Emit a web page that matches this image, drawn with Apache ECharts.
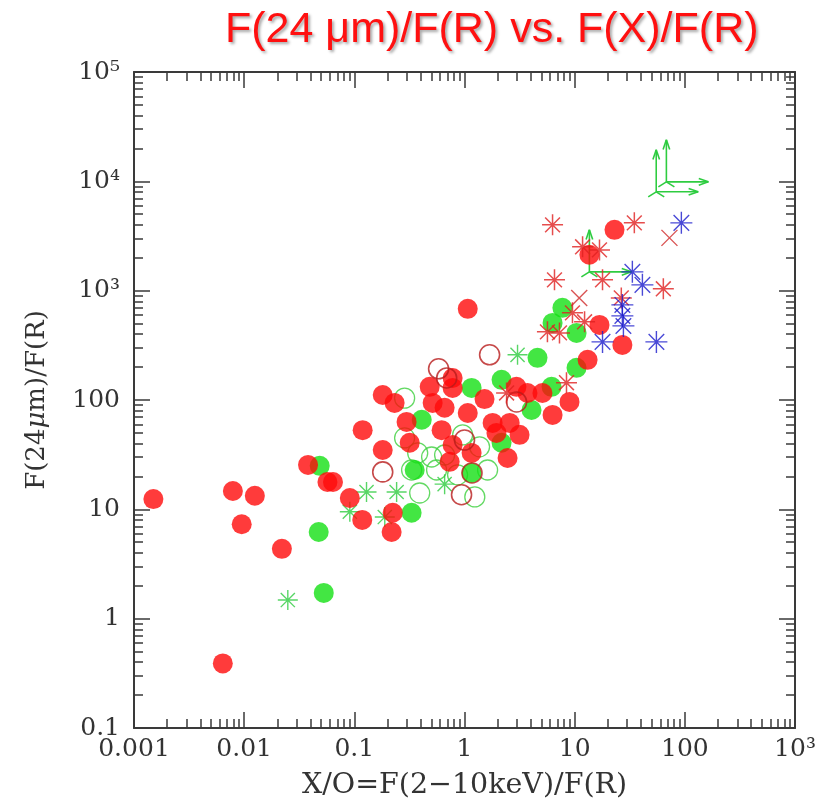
<!DOCTYPE html>
<html>
<head>
<meta charset="utf-8">
<script src="https://cdn.jsdelivr.net/npm/echarts@6/dist/echarts.min.js"></script>
<style>
  html, body { margin: 0; padding: 0; background: #ffffff; }
  #chart { width: 828px; height: 808px; }
</style>
</head>
<body>
<div id="chart"></div>
<script>
// X/O ratio (2-10 keV over R band) against 24 micron over R band flux ratio
const xDecades = [0.001, 0.01, 0.1, 1, 10, 100, 1000];
const xTickLabels = ['0.001', '0.01', '0.1', '1', '10', '100', '10³'];
const yDecades = [0.1, 1, 10, 100, 1000, 10000, 100000];
const yTickLabels = ['0.1', '1', '10', '100', '10³', '10⁴', '10⁵'];

// filled red circles
const redFilled = [
  [0.0015, 12.4], [0.0079, 14.7], [0.0125, 13.3], [0.0095, 7.3], [0.022, 4.35],
  [0.0064, 0.39], [0.038, 25.5], [0.057, 17.8], [0.064, 17.8], [0.091, 12.7],
  [0.118, 8.0], [0.223, 9.3], [0.218, 6.2], [0.119, 53], [0.181, 111],
  [0.232, 94], [0.298, 63], [0.318, 40.6], [0.181, 34.9], [0.483, 132],
  [0.514, 94], [0.78, 159], [0.78, 129], [0.66, 85], [0.62, 53],
  [1.07, 76], [1.52, 102], [0.78, 38.8], [1.16, 32.8], [0.733, 27.2],
  [1.8, 61.7], [2.57, 61.7], [1.95, 50], [3.16, 48], [2.46, 29.5],
  [2.96, 132], [3.73, 116], [5.1, 116], [6.3, 73], [8.98, 96],
  [13.1, 233], [1.07, 682], [16.8, 486], [27.1, 319], [13.6, 2130],
  [23, 3600]
];
// filled green circles
const greenFilled = [
  [0.0485, 25], [0.0475, 6.2], [0.0528, 1.72], [0.331, 9.3], [0.409, 66],
  [0.353, 22.9], [1.16, 129], [1.16, 21.5], [2.17, 153], [2.17, 40.6],
  [4.06, 81], [4.6, 243], [6.17, 132], [10.4, 197], [10.4, 411],
  [7.74, 697], [6.3, 507]
];
// open green circles
const greenOpen = [
  [0.286, 104], [0.286, 45], [0.376, 32.8], [0.331, 22.9], [0.392, 14.1],
  [0.503, 30.1], [0.558, 22.9], [0.962, 48], [1.37, 37.3], [1.62, 22.9],
  [1.24, 13.0], [0.865, 20.7], [0.66, 31.4]
];
// open red circles
const redOpen = [
  [0.181, 22], [0.94, 13.6], [0.582, 193], [0.689, 159], [1.69, 259],
  [1.17, 21.5], [2.97, 96], [1.0, 43]
];
// red asterisks
const redStar = [
  [6.3, 4000], [34.8, 4170], [11.8, 2520], [16.8, 2360], [6.56, 1256],
  [17.9, 1256], [63.8, 1040], [26.5, 859], [9.55, 627], [12.3, 519],
  [5.66, 420], [7.28, 411], [8.43, 144], [2.41, 116]
];
// red crosses
const redCross = [[11.0, 859], [72.5, 3040]];
// blue asterisks
const blueStar = [
  [93, 4170], [33.4, 1486], [41.2, 1130], [27.1, 741], [27.1, 588],
  [27.7, 476], [17.9, 340], [55.2, 340]
];
// green asterisks
const greenStar = [
  [3.03, 259], [0.129, 14.4], [0.242, 14.4], [0.66, 17], [0.091, 9.5],
  [0.189, 8.5], [0.0249, 1.48]
];
// green lower limits in both ratios
const greenLimit = [[55, 8020], [68, 9890], [13.6, 1486]];

function minorValues(decades) {
  const out = [];
  for (let i = 0; i < decades.length - 1; i++) {
    for (let k = 2; k <= 9; k++) out.push(+(decades[i] * k).toPrecision(6));
  }
  return out;
}
const xMinor = minorValues(xDecades);
const yMinor = minorValues(yDecades);

const AXIS_COLOR = '#3a3a3a';
const TEXT_COLOR = '#333333';
const LABEL_FONT = '"DejaVu Serif", serif';

function labelFor(decades, labels) {
  return function (v) {
    for (let i = 0; i < decades.length; i++) {
      if (Math.abs(Math.log10(v) - Math.log10(decades[i])) < 1e-6) return labels[i];
    }
    return '';
  };
}

function makeAxis(dim, position, decades, minor, labels, isMain, isMinor) {
  const ax = {
    type: 'log',
    logBase: 10,
    min: decades[0],
    max: decades[decades.length - 1],
    position: position,
    splitLine: { show: false },
    axisLine: { show: !isMinor, lineStyle: { color: AXIS_COLOR, width: 2 } },
    axisTick: {
      show: true,
      inside: true,
      length: isMinor ? 9 : 16,
      customValues: isMinor ? minor : decades,
      lineStyle: { color: AXIS_COLOR, width: 1.5 }
    },
    axisLabel: { show: false },
    z: 5
  };
  if (isMain) {
    ax.axisLabel = {
      show: true,
      customValues: decades,
      formatter: labelFor(decades, labels),
      color: TEXT_COLOR,
      fontFamily: LABEL_FONT,
      fontSize: 25,
      margin: dim === 'x' ? 9 : 14,
      showMinLabel: true,
      showMaxLabel: true
    };
  }
  return ax;
}

const xAxes = [
  makeAxis('x', 'bottom', xDecades, xMinor, xTickLabels, true, false),
  makeAxis('x', 'bottom', xDecades, xMinor, xTickLabels, false, true),
  makeAxis('x', 'top', xDecades, xMinor, xTickLabels, false, false),
  makeAxis('x', 'top', xDecades, xMinor, xTickLabels, false, true)
];
xAxes[0].name = 'X/O=F(2\u221210keV)/F(R)';
xAxes[0].nameLocation = 'middle';
xAxes[0].nameGap = 43;
xAxes[0].nameTextStyle = { fontFamily: LABEL_FONT, fontSize: 28.5, color: TEXT_COLOR };

const yAxes = [
  makeAxis('y', 'left', yDecades, yMinor, yTickLabels, true, false),
  makeAxis('y', 'left', yDecades, yMinor, yTickLabels, false, true),
  makeAxis('y', 'right', yDecades, yMinor, yTickLabels, false, false),
  makeAxis('y', 'right', yDecades, yMinor, yTickLabels, false, true)
];
yAxes[0].name = '{a|F(24}{i|\u03bc}{a|m)/F(R)}';
yAxes[0].nameLocation = 'middle';
yAxes[0].nameGap = 84;
yAxes[0].nameRotate = 90;
yAxes[0].nameTextStyle = {
  fontFamily: LABEL_FONT, fontSize: 26, color: TEXT_COLOR,
  rich: {
    a: { fontFamily: LABEL_FONT, fontSize: 26, color: TEXT_COLOR },
    i: { fontFamily: LABEL_FONT, fontSize: 26, fontStyle: 'italic', color: TEXT_COLOR }
  }
};

const STAR = 'path://M0,-10L0,10M-10,0L10,0M-7.07,-7.07L7.07,7.07M-7.07,7.07L7.07,-7.07';
const CROSS = 'path://M-8,-8L8,8M-8,8L8,-8';

function scatter(name, data, opts) {
  return Object.assign({
    name: name,
    type: 'scatter',
    data: data,
    xAxisIndex: 0,
    yAxisIndex: 0,
    animation: false,
    silent: true
  }, opts);
}

const ARROW_LEN = 42;
const HEAD = 6;
function renderLimit(params, api) {
  const p = api.coord([api.value(0), api.value(1)]);
  const x = p[0], y = p[1];
  const st = { stroke: '#2ecc40', lineWidth: 1.6, fill: null };
  const line = (x1, y1, x2, y2) => ({ type: 'line', shape: { x1, y1, x2, y2 }, style: st });
  return {
    type: 'group',
    children: [
      line(x, y, x, y - ARROW_LEN),
      line(x, y - ARROW_LEN, x - HEAD * 0.55, y - ARROW_LEN + HEAD * 1.6),
      line(x, y - ARROW_LEN, x + HEAD * 0.55, y - ARROW_LEN + HEAD * 1.6),
      line(x, y, x + ARROW_LEN, y),
      line(x + ARROW_LEN, y, x + ARROW_LEN - HEAD * 1.6, y - HEAD * 0.55),
      line(x + ARROW_LEN, y, x + ARROW_LEN - HEAD * 1.6, y + HEAD * 0.55),
      line(x, y, x - 8, y + 5),
      line(x, y, x + 8, y + 5)
    ]
  };
}

const chart = echarts.init(document.getElementById('chart'), null, { renderer: 'canvas' });
chart.setOption({
  backgroundColor: '#ffffff',
  animation: false,
  title: {
    text: 'F(24 \u03bcm)/F(R) vs. F(X)/F(R)',
    left: 220,
    top: 4,
    textStyle: {
      fontFamily: '"Liberation Sans", Arial, sans-serif',
      fontSize: 43,
      fontWeight: 'normal',
      color: '#ff1010',
      textShadowColor: 'rgba(0,0,0,0.35)',
      textShadowBlur: 3,
      textShadowOffsetX: 2,
      textShadowOffsetY: 2
    }
  },
  grid: { left: 134, right: 33, top: 72, bottom: 80, containLabel: false, outerBoundsMode: 'none' },
  xAxis: xAxes,
  yAxis: yAxes,
  series: [
    scatter('greenOpen', greenOpen, {
      symbol: 'circle', symbolSize: 20,
      itemStyle: { color: 'rgba(0,0,0,0)', borderColor: '#3ccf3c', borderWidth: 1.3 }
    }),
    scatter('greenFilled', greenFilled, {
      symbol: 'circle', symbolSize: 20,
      itemStyle: { color: '#14e014' }
    }),
    scatter('greenStar', greenStar, {
      symbol: STAR, symbolSize: 20,
      itemStyle: { color: 'rgba(0,0,0,0)', borderColor: '#2ecc40', borderWidth: 1.4 }
    }),
    {
      name: 'greenLimit',
      type: 'custom',
      data: greenLimit,
      xAxisIndex: 0,
      yAxisIndex: 0,
      renderItem: renderLimit,
      encode: { x: 0, y: 1 },
      animation: false,
      silent: true
    },
    scatter('redFilled', redFilled, {
      symbol: 'circle', symbolSize: 20,
      itemStyle: { color: '#ff0a0a' }
    }),
    scatter('redOpen', redOpen, {
      symbol: 'circle', symbolSize: 20,
      itemStyle: { color: 'rgba(0,0,0,0)', borderColor: '#b81c1c', borderWidth: 1.6 }
    }),
    scatter('redStar', redStar, {
      symbol: STAR, symbolSize: 21,
      itemStyle: { color: 'rgba(0,0,0,0)', borderColor: '#e02020', borderWidth: 1.5 }
    }),
    scatter('redCross', redCross, {
      symbol: CROSS, symbolSize: 16,
      itemStyle: { color: 'rgba(0,0,0,0)', borderColor: '#d02828', borderWidth: 1.4 }
    }),
    scatter('blueStar', blueStar, {
      symbol: STAR, symbolSize: 22,
      itemStyle: { color: 'rgba(0,0,0,0)', borderColor: '#1c1ccc', borderWidth: 1.4 }
    })
  ]
});
</script>
</body>
</html>
